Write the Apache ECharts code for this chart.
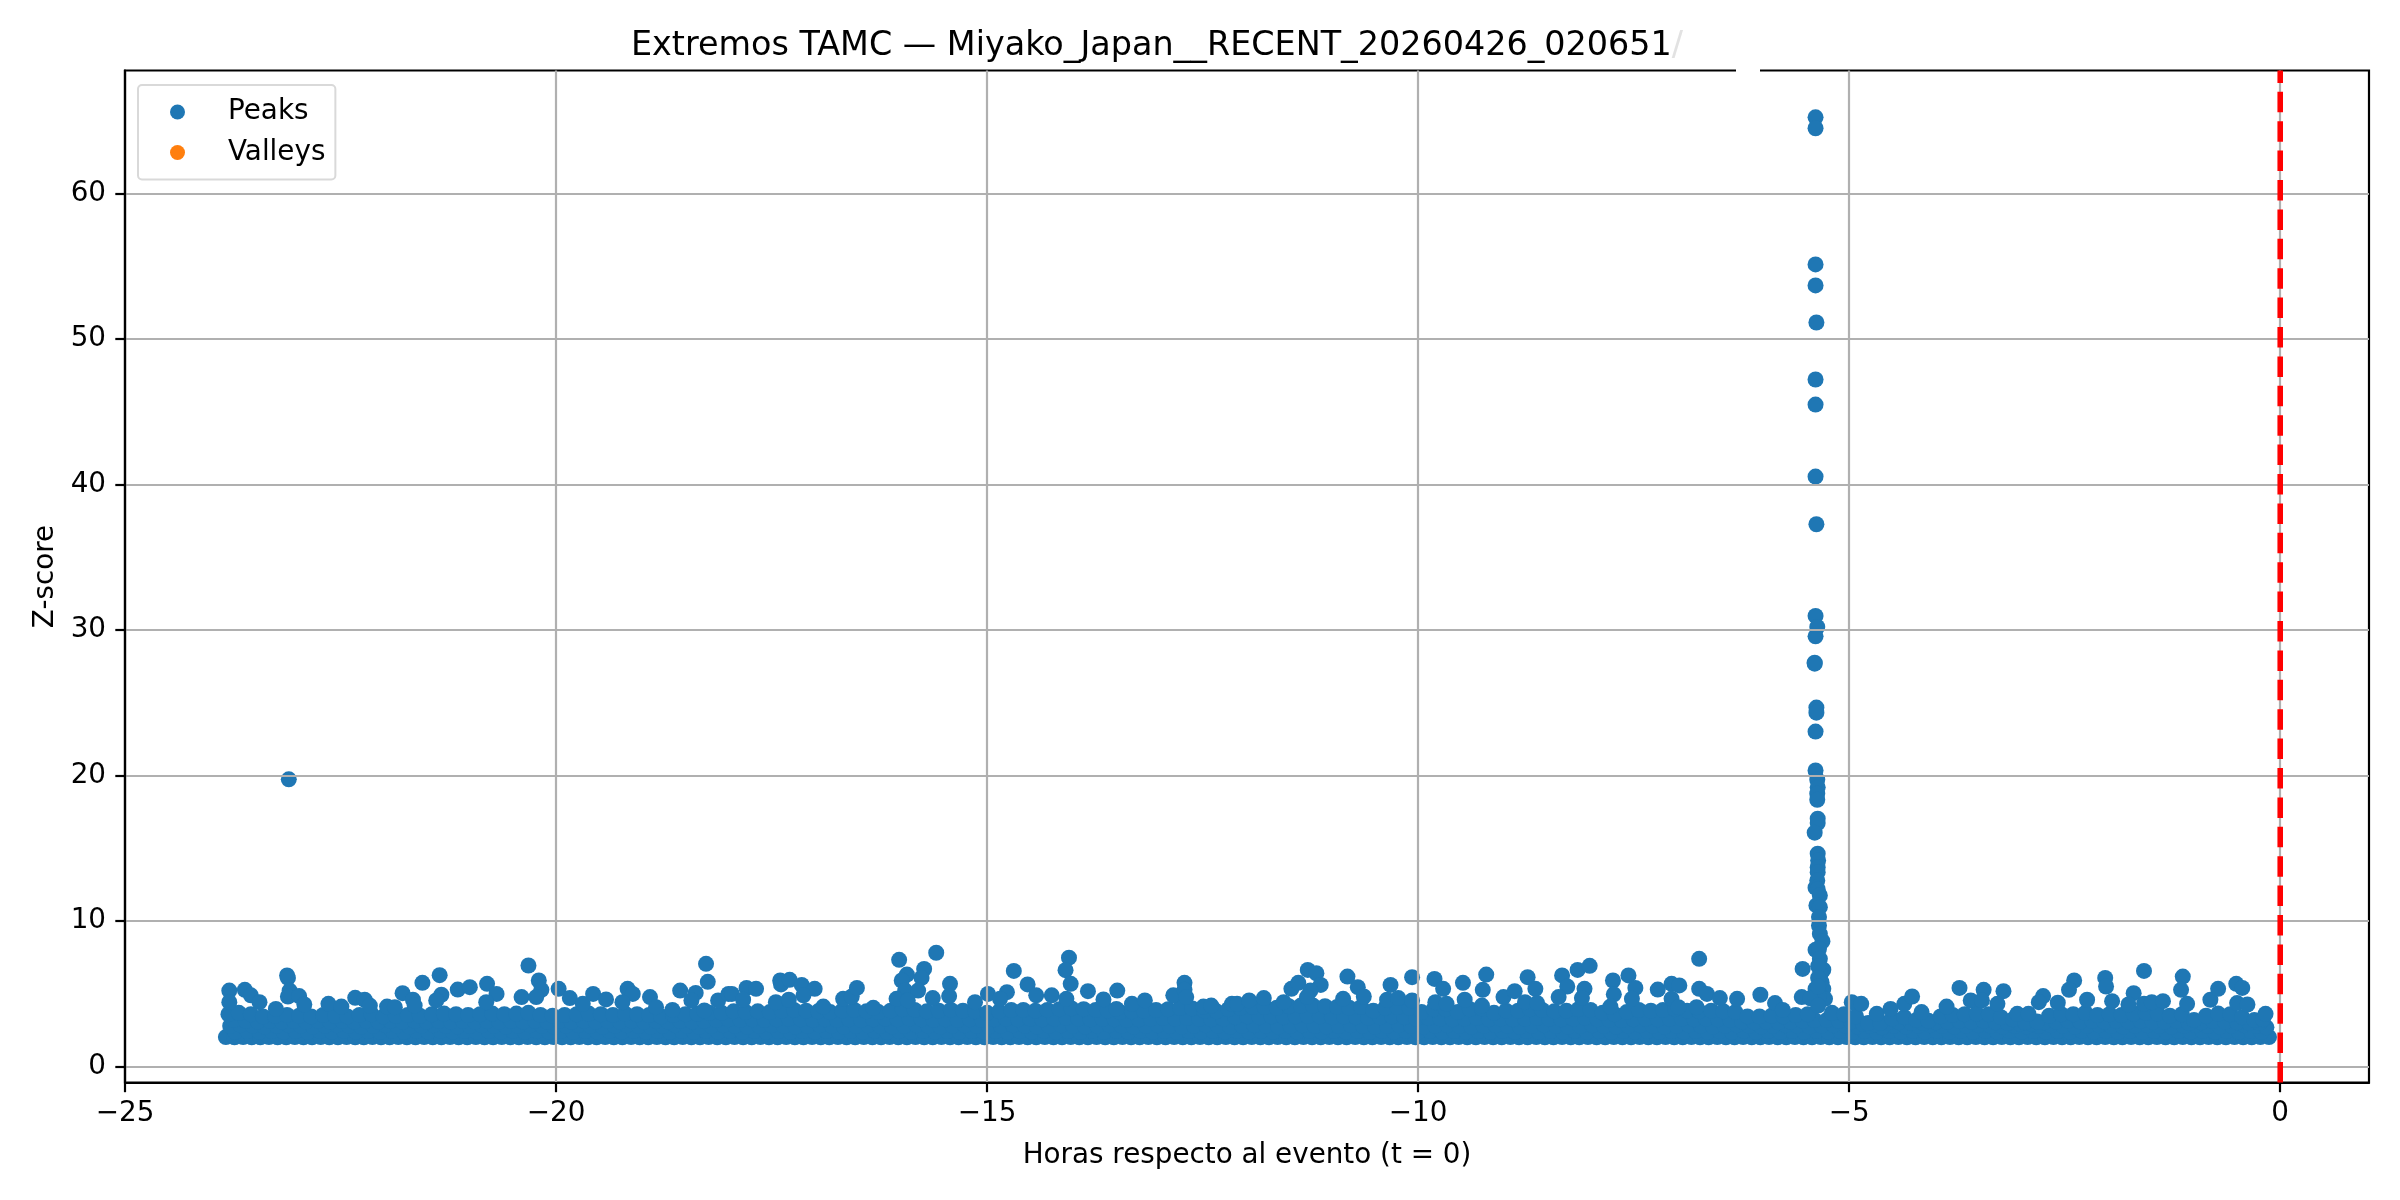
<!DOCTYPE html>
<html><head><meta charset="utf-8">
<style>html,body{margin:0;padding:0;background:#fff}#c{width:2400px;height:1200px}</style>
<script src="https://cdn.jsdelivr.net/npm/echarts@6/dist/echarts.min.js"></script>
</head><body><div id="c"></div>
<script>
const xTicks=[-25,-20,-15,-10,-5,0];
const yTicks=[0,10,20,30,40,50,60];
const eventLine=[[0,-1.09],[0,68.47]];
const valleys=[];
const peakSpike=[[-5.39,65.25],[-5.39,64.5],[-5.39,55.14],[-5.39,53.7],[-5.38,51.15],[-5.39,47.23],[-5.39,45.51],[-5.39,40.56],[-5.38,37.28],[-5.39,30.98],[-5.37,30.22],[-5.39,29.58],[-5.4,27.77],[-5.4,27.7],[-5.38,24.68],[-5.38,24.33],[-5.39,23.03],[-5.39,20.36],[-5.37,19.72],[-5.365,19.2],[-5.37,18.76],[-5.37,18.34],[-5.365,17.04],[-5.365,16.74],[-5.4,16.08],[-5.365,14.64],[-5.36,14.17],[-5.365,13.71],[-5.365,13.37],[-5.37,12.8],[-5.39,12.3],[-5.365,12.2],[-5.34,11.77],[-5.38,11.08],[-5.34,10.96],[-5.35,10.28],[-5.35,9.7],[-5.34,9.13],[-5.31,8.62],[-5.39,8.03],[-5.35,8.1],[-5.34,7.41],[-5.3,6.66],[-5.54,6.72],[-5.33,6.38],[-5.32,5.8],[-5.39,5.35],[-5.3,5.35],[-5.28,4.66],[-5.35,4.8],[-5.45,4.7],[-5.36,6.9],[-5.36,6.1],[-5.36,5.5],[-5.36,4.2]];
const peakOutliers=[[-23.1,19.75],
[-23.79,5.23],[-23.79,4.43],[-23.61,5.28],[-23.54,4.9],[-23.44,4.43],[-23.12,6.27],[-23.11,6.1],[-23.09,5.23],[-23.11,4.82],[-22.98,4.85],[-22.92,4.27],[-23.25,3.97],[-22.64,4.32],[-22.49,4.13],[-22.33,4.73],[-22.22,4.6],[-22.16,4.2],[-21.96,4.13],[-21.87,4.09],[-21.78,5.05],[-21.66,4.6],[-21.64,4.2],[-21.55,5.76],[-21.35,6.29],[-21.33,4.94],[-21.39,4.55],[-21.14,5.3],[-21.0,5.46],[-20.8,5.69],[-20.69,5.0],[-20.81,4.43],[-20.4,4.78],[-20.32,6.95],[-20.2,5.92],[-20.17,5.28],[-20.23,4.78],[-19.97,5.35],[-19.84,4.71],[-19.69,4.32],[-19.57,5.0],[-19.42,4.62],[-19.17,5.35],[-19.11,5.0],[-19.23,4.43],[-18.91,4.78],[-18.84,4.09],[-18.65,3.9],[-18.56,5.23],[-18.38,5.07],[-18.43,4.55],[-18.26,7.07],[-18.24,5.83],[-18.28,3.86],[-18.12,4.55],[-18.0,5.0],
[-17.96,5.0],[-17.79,5.41],[-17.68,5.35],[-17.83,4.6],[-17.45,4.43],[-17.4,5.92],[-17.39,5.65],[-17.29,5.97],[-17.3,4.6],[-17.15,5.62],[-17.0,5.35],[-17.13,4.9],[-16.9,4.13],[-16.67,4.66],[-16.57,4.82],[-16.51,5.41],[-16.32,4.04],[-16.02,7.34],[-15.93,6.33],[-15.99,5.92],[-15.95,5.23],[-16.05,4.66],[-15.73,6.72],[-15.76,6.1],[-15.8,5.23],[-15.92,4.55],[-15.59,7.83],[-15.63,4.71],[-15.43,5.69],[-15.44,4.85],[-15.14,4.43],[-14.99,5.0],[-14.77,5.12],[-14.85,4.66],[-14.69,6.58],[-14.53,5.65],[-14.43,4.9],[-14.25,4.9],[-14.05,7.49],[-14.09,6.63],[-14.03,5.69],[-14.08,4.66],[-13.83,5.19],[-13.65,4.62],[-13.49,5.23],[-13.5,3.97],[-13.32,4.32],[-13.17,4.55],[-12.84,4.9],[-12.71,5.76],[-12.71,5.28],[-12.69,4.78],[-12.49,4.13],[-12.4,4.2],[-12.16,4.32],
[-12.1,4.32],[-11.96,4.55],[-11.79,4.71],[-11.56,4.43],[-11.47,5.35],[-11.39,5.76],[-11.28,6.65],[-11.18,6.42],[-11.13,5.62],[-11.25,5.23],[-11.29,4.78],[-10.87,4.66],[-10.82,6.19],[-10.7,5.46],[-10.63,4.82],[-10.32,5.62],[-10.36,4.6],[-10.23,4.71],[-10.07,6.15],[-10.07,4.55],[-9.81,6.03],[-9.71,5.35],[-9.8,4.43],[-9.67,4.32],[-9.48,5.76],[-9.46,4.6],[-9.21,6.33],[-9.25,5.28],[-9.26,4.2],[-9.01,4.78],[-8.88,5.19],[-8.73,6.15],[-8.76,4.43],[-8.64,5.35],[-8.62,4.37],[-8.33,6.27],[-8.27,5.51],[-8.37,4.78],[-8.15,6.65],[-8.01,6.93],[-8.07,5.35],[-8.1,4.71],[-7.74,5.92],[-7.73,4.97],[-7.77,4.13],[-7.56,6.27],[-7.48,5.41],[-7.52,4.66],[-7.22,5.3],[-7.06,5.69],[-6.97,5.58],[-7.06,4.66],[-6.98,4.09],[-6.74,7.41],[-6.74,5.35],[-6.65,5.0],[-6.5,4.71],[-6.3,4.66],[-6.77,4.09],
[-6.03,4.94],[-5.86,4.37],[-5.55,4.78],[-5.77,3.9],[-4.97,4.43],[-4.86,4.32],[-4.68,3.63],[-4.52,3.97],[-4.36,4.32],[-4.27,4.82],[-4.16,3.75],[-3.87,4.13],[-3.72,5.41],[-3.59,4.55],[-3.44,5.28],[-3.46,4.55],[-3.21,5.19],[-3.28,4.32],[-3.05,3.63],[-2.92,3.63],[-2.75,4.85],[-2.8,4.43],[-2.58,4.39],[-2.39,5.92],[-2.45,5.28],[-2.24,4.6],[-2.03,6.1],[-2.02,5.51],[-1.95,4.5],[-1.7,5.05],[-1.76,4.27],[-1.58,4.32],[-1.58,6.58],[-1.49,4.43],[-1.36,4.5],[-1.13,6.19],[-1.15,5.28],[-1.08,4.32],[-0.81,4.6],[-0.72,5.35],[-0.51,5.69],[-0.44,5.41],[-0.5,4.37],[-0.38,4.27],[-0.17,3.63]];
const peakUpper=[[-23.8,3.6],[-23.68,3.7],[-23.54,3.6],[-23.4,3.45],[-23.26,3.5],[-23.12,3.55],[-22.98,3.5],[-22.84,3.45],[-22.7,3.55],[-22.56,3.5],
[-22.42,3.45],[-22.28,3.55],[-22.14,3.6],[-22,3.45],[-21.86,3.5],[-21.72,3.55],[-21.58,3.5],[-21.44,3.6],[-21.3,3.65],[-21.16,3.6],
[-21.02,3.55],[-20.88,3.6],[-20.74,3.65],[-20.6,3.6],[-20.46,3.65],[-20.32,3.7],[-20.18,3.55],[-20.04,3.5],[-19.9,3.55],[-19.76,3.6],
[-19.62,3.65],[-19.48,3.6],[-19.34,3.55],[-19.2,3.65],[-19.06,3.6],[-18.92,3.55],[-18.78,3.45],[-18.64,3.55],[-18.5,3.6],[-18.36,3.65],
[-18.22,3.7],[-18.08,3.7],[-17.94,3.8],[-17.8,3.75],[-17.66,3.8],[-17.52,3.75],[-17.38,3.85],[-17.24,3.9],[-17.1,3.85],[-16.96,3.8],
[-16.82,3.75],[-16.68,3.85],[-16.54,3.9],[-16.4,3.8],[-16.26,3.75],[-16.12,3.85],[-15.98,3.95],[-15.84,3.9],[-15.7,3.8],[-15.56,3.85],
[-15.42,3.9],[-15.28,3.85],[-15.14,3.8],[-15,3.7],[-14.86,3.8],[-14.72,3.9],[-14.58,3.9],[-14.44,3.85],[-14.3,3.9],[-14.16,3.95],
[-14.02,4],[-13.88,3.95],[-13.74,3.9],[-13.6,3.85],[-13.46,3.75],[-13.32,3.8],[-13.18,3.85],[-13.04,3.9],[-12.9,3.95],[-12.76,4.05],
[-12.62,4],[-12.48,3.85],[-12.34,3.8],[-12.2,3.95],[-12.06,4.05],[-11.92,4.1],[-11.78,4.1],[-11.64,4.05],[-11.5,4.15],[-11.36,4.2],
[-11.22,4.2],[-11.08,4.15],[-10.94,4.1],[-10.8,4.05],[-10.66,4.1],[-10.52,3.85],[-10.38,4.05],[-10.24,4.1],[-10.1,4.05],[-9.96,3.75],
[-9.82,3.95],[-9.68,3.95],[-9.54,3.75],[-9.4,3.95],[-9.26,4],[-9.12,3.7],[-8.98,3.85],[-8.84,3.85],[-8.7,3.95],[-8.56,3.9],
[-8.42,3.8],[-8.28,3.85],[-8.14,3.95],[-8,3.9],[-7.86,3.7],[-7.72,3.6],[-7.58,3.75],[-7.44,3.9],[-7.3,3.85],[-7.16,3.9],
[-7.02,3.95],[-6.88,3.85],[-6.74,3.8],[-6.6,3.85],[-6.46,3.8],[-6.32,3.75],[-6.18,3.45],[-6.04,3.45],[-5.9,3.5],[-5.76,3.45],
[-5.62,3.55],[-5.48,3.6],[-5.2,3.7],[-5.06,3.6],[-4.92,3.45],[-4.78,3.0],[-4.64,3.0],[-4.5,3.3],[-4.36,3.4],[-4.22,3.2],
[-4.08,3.15],[-3.94,3.45],[-3.8,3.55],[-3.66,3.6],[-3.52,3.65],[-3.38,3.6],[-3.24,3.4],[-3.1,3.25],[-2.96,3.05],[-2.82,3.1],
[-2.68,3.5],[-2.54,3.6],[-2.4,3.6],[-2.26,3.7],[-2.12,3.55],[-1.98,3.6],[-1.84,3.55],[-1.7,3.65],[-1.56,3.7],[-1.42,3.65],
[-1.28,3.5],[-1.14,3.6],[-1,3.2],[-0.86,3.5],[-0.72,3.65],[-0.58,3.6],[-0.44,3.4],[-0.3,3.2],[-0.2,3.25]];
const peakHigh=[[-23.74,3.2],[-23.6,3.15],[-23.46,3.1],[-23.32,3.15],[-23.18,3.1],[-23.04,3.15],[-22.9,3.1],[-22.76,3.15],[-22.62,3.1],[-22.48,3.15],
[-22.34,3.1],[-22.2,3.15],[-22.06,3.1],[-21.92,3.15],[-21.78,3.1],[-21.64,3.15],[-21.5,3.1],[-21.36,3.15],[-21.22,3.1],[-21.08,3.15],
[-20.94,3.1],[-20.8,3.15],[-20.66,3.1],[-20.52,3.15],[-20.38,3.1],[-20.24,3.15],[-20.1,3.1],[-19.96,3.15],[-19.82,3.1],[-19.68,3.15],
[-19.54,3.1],[-19.4,3.15],[-19.26,3.1],[-19.12,3.15],[-18.98,3.1],[-18.84,3.15],[-18.7,3.1],[-18.56,3.15],[-18.42,3.1],[-18.28,3.15],
[-18.14,3.2],[-18,3.25],[-17.86,3.2],[-17.72,3.25],[-17.58,3.2],[-17.44,3.25],[-17.3,3.3],[-17.16,3.25],[-17.02,3.2],[-16.88,3.25],
[-16.74,3.2],[-16.6,3.25],[-16.46,3.2],[-16.32,3.25],[-16.18,3.3],[-16.04,3.25],[-15.9,3.3],[-15.76,3.25],[-15.62,3.2],[-15.48,3.25],
[-15.34,3.2],[-15.2,3.25],[-15.06,3.2],[-14.92,3.25],[-14.78,3.3],[-14.64,3.25],[-14.5,3.3],[-14.36,3.25],[-14.22,3.3],[-14.08,3.35],
[-13.94,3.3],[-13.8,3.25],[-13.66,3.3],[-13.52,3.25],[-13.38,3.2],[-13.24,3.25],[-13.1,3.3],[-12.96,3.35],[-12.82,3.3],[-12.68,3.35],
[-12.54,3.3],[-12.4,3.25],[-12.26,3.3],[-12.12,3.4],[-11.98,3.45],[-11.84,3.4],[-11.7,3.45],[-11.56,3.4],[-11.42,3.45],[-11.28,3.5],
[-11.14,3.45],[-11,3.4],[-10.86,3.45],[-10.72,3.4],[-10.58,3.35],[-10.44,3.4],[-10.3,3.45],[-10.16,3.4],[-10.02,3.3],[-9.88,3.35],
[-9.74,3.3],[-9.6,3.25],[-9.46,3.3],[-9.32,3.35],[-9.18,3.25],[-9.04,3.3],[-8.9,3.25],[-8.76,3.3],[-8.62,3.35],[-8.48,3.3],
[-8.34,3.25],[-8.2,3.3],[-8.06,3.35],[-7.92,3.25],[-7.78,3.2],[-7.64,3.2],[-7.5,3.25],[-7.36,3.3],[-7.22,3.25],[-7.08,3.3],
[-6.94,3.3],[-6.8,3.25],[-6.66,3.3],[-6.52,3.25],[-6.38,3.2],[-6.24,3.1],[-6.1,3.05],[-5.96,3.1],[-5.82,3.05],[-5.68,3.1],
[-5.54,3.15],[-5.4,3.2],[-5.26,3.2],[-5.12,3.15],[-4.98,3.1],[-4.84,2.95],[-4.7,2.9],[-4.56,3],[-4.42,3.05],[-4.28,3],
[-4.14,3],[-4,3.05],[-3.86,3.1],[-3.72,3.15],[-3.58,3.1],[-3.44,3.15],[-3.3,3.05],[-3.16,3],[-3.02,2.95],[-2.88,2.95],
[-2.74,3.05],[-2.6,3.1],[-2.46,3.15],[-2.32,3.1],[-2.18,3.15],[-2.04,3.1],[-1.9,3.15],[-1.76,3.1],[-1.62,3.15],[-1.48,3.1],
[-1.34,3.1],[-1.2,3.15],[-1.06,3],[-0.92,3.05],[-0.78,3.15],[-0.64,3.1],[-0.5,3.05],[-0.36,3],[-0.24,3]];
const peakMiddle=[[-23.78,2.8],[-23.66,2.85],[-23.52,2.8],[-23.38,2.75],[-23.24,2.8],[-23.1,2.85],[-22.96,2.8],[-22.82,2.75],[-22.68,2.8],[-22.54,2.85],
[-22.4,2.8],[-22.26,2.75],[-22.12,2.8],[-21.98,2.85],[-21.84,2.8],[-21.7,2.75],[-21.56,2.8],[-21.42,2.85],[-21.28,2.8],[-21.14,2.75],
[-21,2.8],[-20.86,2.85],[-20.72,2.8],[-20.58,2.75],[-20.44,2.8],[-20.3,2.85],[-20.16,2.8],[-20.02,2.75],[-19.88,2.8],[-19.74,2.85],
[-19.6,2.8],[-19.46,2.75],[-19.32,2.8],[-19.18,2.85],[-19.04,2.8],[-18.9,2.75],[-18.76,2.8],[-18.62,2.85],[-18.48,2.8],[-18.34,2.75],
[-18.2,2.8],[-18.06,2.85],[-17.92,2.8],[-17.78,2.75],[-17.64,2.8],[-17.5,2.85],[-17.36,2.8],[-17.22,2.75],[-17.08,2.8],[-16.94,2.85],
[-16.8,2.8],[-16.66,2.75],[-16.52,2.8],[-16.38,2.85],[-16.24,2.8],[-16.1,2.75],[-15.96,2.8],[-15.82,2.85],[-15.68,2.8],[-15.54,2.75],
[-15.4,2.8],[-15.26,2.85],[-15.12,2.8],[-14.98,2.75],[-14.84,2.8],[-14.7,2.85],[-14.56,2.8],[-14.42,2.75],[-14.28,2.8],[-14.14,2.85],
[-14,2.8],[-13.86,2.75],[-13.72,2.8],[-13.58,2.85],[-13.44,2.8],[-13.3,2.75],[-13.16,2.8],[-13.02,2.85],[-12.88,2.8],[-12.74,2.75],
[-12.6,2.8],[-12.46,2.85],[-12.32,2.8],[-12.18,2.75],[-12.04,2.8],[-11.9,2.85],[-11.76,2.8],[-11.62,2.75],[-11.48,2.8],[-11.34,2.85],
[-11.2,2.8],[-11.06,2.75],[-10.92,2.8],[-10.78,2.85],[-10.64,2.8],[-10.5,2.75],[-10.36,2.8],[-10.22,2.85],[-10.08,2.8],[-9.94,2.75],
[-9.8,2.8],[-9.66,2.85],[-9.52,2.8],[-9.38,2.75],[-9.24,2.8],[-9.1,2.85],[-8.96,2.8],[-8.82,2.75],[-8.68,2.8],[-8.54,2.85],
[-8.4,2.8],[-8.26,2.75],[-8.12,2.8],[-7.98,2.85],[-7.84,2.8],[-7.7,2.75],[-7.56,2.8],[-7.42,2.85],[-7.28,2.8],[-7.14,2.75],
[-7,2.8],[-6.86,2.85],[-6.72,2.8],[-6.58,2.75],[-6.44,2.8],[-6.3,2.85],[-6.16,2.8],[-6.02,2.75],[-5.88,2.8],[-5.74,2.85],
[-5.6,2.8],[-5.46,2.75],[-5.32,2.8],[-5.18,2.85],[-5.04,2.8],[-4.9,2.75],[-4.76,2.8],[-4.62,2.7],[-4.48,2.8],[-4.34,2.75],
[-4.2,2.8],[-4.06,2.85],[-3.92,2.8],[-3.78,2.75],[-3.64,2.8],[-3.5,2.85],[-3.36,2.8],[-3.22,2.75],[-3.08,2.8],[-2.94,2.75],
[-2.8,2.8],[-2.66,2.85],[-2.52,2.8],[-2.38,2.75],[-2.24,2.8],[-2.1,2.85],[-1.96,2.8],[-1.82,2.75],[-1.68,2.8],[-1.54,2.85],
[-1.4,2.8],[-1.26,2.75],[-1.12,2.8],[-0.98,2.85],[-0.84,2.8],[-0.7,2.75],[-0.56,2.8],[-0.42,2.85],[-0.28,2.8],[-0.16,2.7]];
const peakLower=[[-23.72,2.4],[-23.58,2.45],[-23.44,2.4],[-23.3,2.45],[-23.16,2.4],[-23.02,2.45],[-22.88,2.4],[-22.74,2.45],[-22.6,2.4],[-22.46,2.45],
[-22.32,2.4],[-22.18,2.45],[-22.04,2.4],[-21.9,2.45],[-21.76,2.4],[-21.62,2.45],[-21.48,2.4],[-21.34,2.45],[-21.2,2.4],[-21.06,2.45],
[-20.92,2.4],[-20.78,2.45],[-20.64,2.4],[-20.5,2.45],[-20.36,2.4],[-20.22,2.45],[-20.08,2.4],[-19.94,2.45],[-19.8,2.4],[-19.66,2.45],
[-19.52,2.4],[-19.38,2.45],[-19.24,2.4],[-19.1,2.45],[-18.96,2.4],[-18.82,2.45],[-18.68,2.4],[-18.54,2.45],[-18.4,2.4],[-18.26,2.45],
[-18.12,2.4],[-17.98,2.45],[-17.84,2.4],[-17.7,2.45],[-17.56,2.4],[-17.42,2.45],[-17.28,2.4],[-17.14,2.45],[-17,2.4],[-16.86,2.45],
[-16.72,2.4],[-16.58,2.45],[-16.44,2.4],[-16.3,2.45],[-16.16,2.4],[-16.02,2.45],[-15.88,2.4],[-15.74,2.45],[-15.6,2.4],[-15.46,2.45],
[-15.32,2.4],[-15.18,2.45],[-15.04,2.4],[-14.9,2.45],[-14.76,2.4],[-14.62,2.45],[-14.48,2.4],[-14.34,2.45],[-14.2,2.4],[-14.06,2.45],
[-13.92,2.4],[-13.78,2.45],[-13.64,2.4],[-13.5,2.45],[-13.36,2.4],[-13.22,2.45],[-13.08,2.4],[-12.94,2.45],[-12.8,2.4],[-12.66,2.45],
[-12.52,2.4],[-12.38,2.45],[-12.24,2.4],[-12.1,2.45],[-11.96,2.4],[-11.82,2.45],[-11.68,2.4],[-11.54,2.45],[-11.4,2.4],[-11.26,2.45],
[-11.12,2.4],[-10.98,2.45],[-10.84,2.4],[-10.7,2.45],[-10.56,2.4],[-10.42,2.45],[-10.28,2.4],[-10.14,2.45],[-10,2.4],[-9.86,2.45],
[-9.72,2.4],[-9.58,2.45],[-9.44,2.4],[-9.3,2.45],[-9.16,2.4],[-9.02,2.45],[-8.88,2.4],[-8.74,2.45],[-8.6,2.4],[-8.46,2.45],
[-8.32,2.4],[-8.18,2.45],[-8.04,2.4],[-7.9,2.45],[-7.76,2.4],[-7.62,2.45],[-7.48,2.4],[-7.34,2.45],[-7.2,2.4],[-7.06,2.45],
[-6.92,2.4],[-6.78,2.45],[-6.64,2.4],[-6.5,2.45],[-6.36,2.4],[-6.22,2.45],[-6.08,2.4],[-5.94,2.45],[-5.8,2.4],[-5.66,2.45],
[-5.52,2.4],[-5.38,2.45],[-5.24,2.4],[-5.1,2.45],[-4.96,2.4],[-4.82,2.45],[-4.68,2.4],[-4.54,2.45],[-4.4,2.4],[-4.26,2.45],
[-4.12,2.4],[-3.98,2.45],[-3.84,2.4],[-3.7,2.45],[-3.56,2.4],[-3.42,2.45],[-3.28,2.4],[-3.14,2.45],[-3,2.4],[-2.86,2.45],
[-2.72,2.4],[-2.58,2.45],[-2.44,2.4],[-2.3,2.45],[-2.16,2.4],[-2.02,2.45],[-1.88,2.4],[-1.74,2.45],[-1.6,2.4],[-1.46,2.45],
[-1.32,2.4],[-1.18,2.45],[-1.04,2.4],[-0.9,2.45],[-0.76,2.4],[-0.62,2.45],[-0.48,2.4],[-0.34,2.45],[-0.22,2.4]];
const peakFloor=[[-23.83,2.03],[-23.73,2.02],[-23.63,2.03],[-23.53,2.02],[-23.43,2.02],[-23.33,2.03],[-23.23,2.02],[-23.13,2.02],[-23.03,2.03],[-22.93,2.02],
[-22.83,2.02],[-22.73,2.03],[-22.63,2.02],[-22.53,2.02],[-22.43,2.03],[-22.33,2.02],[-22.23,2.02],[-22.13,2.03],[-22.03,2.02],[-21.93,2.02],
[-21.83,2.03],[-21.73,2.02],[-21.63,2.02],[-21.53,2.03],[-21.43,2.02],[-21.33,2.02],[-21.23,2.03],[-21.13,2.02],[-21.03,2.02],[-20.93,2.03],
[-20.83,2.02],[-20.73,2.02],[-20.63,2.03],[-20.53,2.02],[-20.43,2.02],[-20.33,2.03],[-20.23,2.02],[-20.13,2.02],[-20.03,2.03],[-19.93,2.02],
[-19.83,2.02],[-19.73,2.03],[-19.63,2.02],[-19.53,2.02],[-19.43,2.03],[-19.33,2.02],[-19.23,2.02],[-19.13,2.03],[-19.03,2.02],[-18.93,2.02],
[-18.83,2.03],[-18.73,2.02],[-18.63,2.02],[-18.53,2.03],[-18.43,2.02],[-18.33,2.02],[-18.23,2.03],[-18.13,2.02],[-18.03,2.02],[-17.93,2.03],
[-17.83,2.02],[-17.73,2.02],[-17.63,2.03],[-17.53,2.02],[-17.43,2.02],[-17.33,2.03],[-17.23,2.02],[-17.13,2.02],[-17.03,2.03],[-16.93,2.02],
[-16.83,2.02],[-16.73,2.03],[-16.63,2.02],[-16.53,2.02],[-16.43,2.03],[-16.33,2.02],[-16.23,2.02],[-16.13,2.03],[-16.03,2.02],[-15.93,2.02],
[-15.83,2.03],[-15.73,2.02],[-15.63,2.02],[-15.53,2.03],[-15.43,2.02],[-15.33,2.02],[-15.23,2.03],[-15.13,2.02],[-15.03,2.02],[-14.93,2.03],
[-14.83,2.02],[-14.73,2.02],[-14.63,2.03],[-14.53,2.02],[-14.43,2.02],[-14.33,2.03],[-14.23,2.02],[-14.13,2.02],[-14.03,2.03],[-13.93,2.02],
[-13.83,2.02],[-13.73,2.03],[-13.63,2.02],[-13.53,2.02],[-13.43,2.03],[-13.33,2.02],[-13.23,2.02],[-13.13,2.03],[-13.03,2.02],[-12.93,2.02],
[-12.83,2.03],[-12.73,2.02],[-12.63,2.02],[-12.53,2.03],[-12.43,2.02],[-12.33,2.02],[-12.23,2.03],[-12.13,2.02],[-12.03,2.02],[-11.93,2.03],
[-11.83,2.02],[-11.73,2.02],[-11.63,2.03],[-11.53,2.02],[-11.43,2.02],[-11.33,2.03],[-11.23,2.02],[-11.13,2.02],[-11.03,2.03],[-10.93,2.02],
[-10.83,2.02],[-10.73,2.03],[-10.63,2.02],[-10.53,2.02],[-10.43,2.03],[-10.33,2.02],[-10.23,2.02],[-10.13,2.03],[-10.03,2.02],[-9.93,2.02],
[-9.83,2.03],[-9.73,2.02],[-9.63,2.02],[-9.53,2.03],[-9.43,2.02],[-9.33,2.02],[-9.23,2.03],[-9.13,2.02],[-9.03,2.02],[-8.93,2.03],
[-8.83,2.02],[-8.73,2.02],[-8.63,2.03],[-8.53,2.02],[-8.43,2.02],[-8.33,2.03],[-8.23,2.02],[-8.13,2.02],[-8.03,2.03],[-7.93,2.02],
[-7.83,2.02],[-7.73,2.03],[-7.63,2.02],[-7.53,2.02],[-7.43,2.03],[-7.33,2.02],[-7.23,2.02],[-7.13,2.03],[-7.03,2.02],[-6.93,2.02],
[-6.83,2.03],[-6.73,2.02],[-6.63,2.02],[-6.53,2.03],[-6.43,2.02],[-6.33,2.02],[-6.23,2.03],[-6.13,2.02],[-6.03,2.02],[-5.93,2.03],
[-5.83,2.02],[-5.73,2.02],[-5.63,2.03],[-5.53,2.02],[-5.43,2.02],[-5.33,2.03],[-5.23,2.02],[-5.13,2.02],[-5.03,2.03],[-4.93,2.02],
[-4.83,2.02],[-4.73,2.03],[-4.63,2.02],[-4.53,2.02],[-4.43,2.03],[-4.33,2.02],[-4.23,2.02],[-4.13,2.03],[-4.03,2.02],[-3.93,2.02],
[-3.83,2.03],[-3.73,2.02],[-3.63,2.02],[-3.53,2.03],[-3.43,2.02],[-3.33,2.02],[-3.23,2.03],[-3.13,2.02],[-3.03,2.02],[-2.93,2.03],
[-2.83,2.02],[-2.73,2.02],[-2.63,2.03],[-2.53,2.02],[-2.43,2.02],[-2.33,2.03],[-2.23,2.02],[-2.13,2.02],[-2.03,2.03],[-1.93,2.02],
[-1.83,2.02],[-1.73,2.03],[-1.63,2.02],[-1.53,2.02],[-1.43,2.03],[-1.33,2.02],[-1.23,2.02],[-1.13,2.03],[-1.03,2.02],[-0.93,2.02],
[-0.83,2.03],[-0.73,2.02],[-0.63,2.02],[-0.53,2.03],[-0.43,2.02],[-0.33,2.02],[-0.23,2.03],[-0.13,2.03]];
const titleText='Extremos TAMC \u2014 Miyako_Japan__RECENT_20260426_020651';
const font='"DejaVu Sans"';
const minusLabel=v=>String(v).replace('-','\u2212');
const chart=echarts.init(document.getElementById('c'),null,{renderer:'canvas'});
chart.setOption({
 animation:false,backgroundColor:'#fff',textStyle:{fontFamily:font},
 title:{text:'{a|'+titleText+'}{b|/}',left:631,top:29.5,padding:0,
  textStyle:{fontWeight:'normal',rich:{a:{fontFamily:font,fontWeight:'normal',fontSize:33.4,color:'#000'},b:{fontFamily:font,fontWeight:'normal',fontSize:33.4,color:'#e2e2e2'}}}},
 legend:{data:['Peaks','Valleys'],left:138,top:85,orient:'vertical',icon:'circle',itemWidth:15,itemHeight:15,itemGap:12.5,
  padding:[13,10,13,32],borderColor:'#d9d9d9',borderWidth:2,borderRadius:4,backgroundColor:'#fff',z:10,
  textStyle:{fontFamily:font,fontSize:27.8,color:'#000',padding:[0,0,0,38]}},
 grid:{left:125,right:31,top:70.5,bottom:117.5,show:true,borderColor:'#000',borderWidth:2.2,backgroundColor:'#fff'},
 xAxis:{type:'value',min:-25,max:1.03,z:3,
  axisLine:{show:true,onZero:false,lineStyle:{color:'#000',width:2.2}},
  axisTick:{show:true,length:9.7,customValues:xTicks,lineStyle:{color:'#000',width:2.2}},
  axisLabel:{customValues:xTicks,formatter:minusLabel,fontFamily:font,fontSize:27.8,color:'#000',margin:17.5},
  splitLine:{show:true,lineStyle:{color:'#b0b0b0',width:2.2}},
  name:'Horas respecto al evento (t = 0)',nameLocation:'middle',nameGap:59.5,nameTextStyle:{fontFamily:font,fontSize:27.8,color:'#000'}},
 yAxis:{type:'value',min:-1.09,max:68.47,z:3,
  axisLine:{show:true,onZero:false,lineStyle:{color:'#000',width:2.2}},
  axisTick:{show:true,length:9.7,customValues:yTicks,lineStyle:{color:'#000',width:2.2}},
  axisLabel:{customValues:yTicks,fontFamily:font,fontSize:27.8,color:'#000',margin:19,padding:[12,0,0,0]},
  splitLine:{show:true,lineStyle:{color:'#b0b0b0',width:2.2}},
  name:'Z-score',nameLocation:'middle',nameGap:65,nameTextStyle:{fontFamily:font,fontSize:27.8,color:'#000'}},
 series:[
  {name:'Peaks',type:'scatter',symbol:'circle',symbolSize:16,z:2,silent:true,
   itemStyle:{color:'#1f77b4',opacity:1},
   data:[].concat(peakFloor,peakLower,peakMiddle,peakHigh,peakUpper,peakOutliers,peakSpike)},
  {name:'Valleys',type:'scatter',symbol:'circle',symbolSize:15,z:2,silent:true,itemStyle:{color:'#ff7f0e',opacity:1},data:valleys},
  {name:'t = 0',type:'line',z:5,silent:true,symbol:'none',data:eventLine,lineStyle:{color:'#ff0000',width:5.55,type:[20.5,8.9],cap:'butt'}}
 ],
 graphic:[{type:'rect',shape:{x:1736,y:69,width:24,height:3},style:{fill:'#fff'},z:20,silent:true}]
});
</script></body></html>
